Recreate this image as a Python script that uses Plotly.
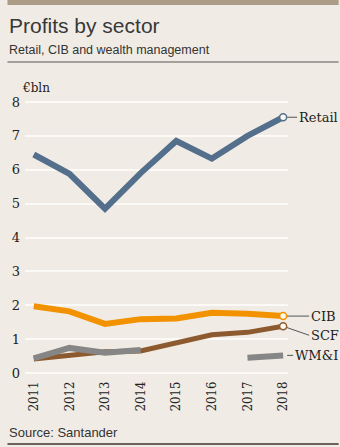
import plotly.graph_objects as go

years = [2011, 2012, 2013, 2014, 2015, 2016, 2017, 2018]
retail = [6.45, 5.88, 4.85, 5.9, 6.85, 6.33, 7.0, 7.55]
cib = [1.97, 1.82, 1.45, 1.59, 1.61, 1.78, 1.75, 1.68]
scf = [0.41, 0.53, 0.63, 0.65, 0.88, 1.13, 1.2, 1.38]
wmi = [0.43, 0.74, 0.6, 0.68, None, None, 0.45, 0.52]
y_ticks = [0, 1, 2, 3, 4, 5, 6, 7, 8]

C_RETAIL = "#536f8c"
C_CIB = "#f39200"
C_SCF = "#8c5a2e"
C_WMI = "#868686"
BG = "#f0ece5"
SERIF = "DejaVu Serif"
SERIF_C = "DejaVu Serif Condensed, DejaVu Serif"
SANS = "Liberation Sans"

# plot area in pixels
L, R, T, B = 18, 288, 100, 376
W, H = 340, 447
def px(x):
    return (x - L) / (R - L)
def py(y):
    return (B - y) / (B - T)

fig = go.Figure()
fig.add_trace(go.Scatter(x=years, y=scf, mode="lines", line=dict(color=C_SCF, width=5), hoverinfo="skip"))
fig.add_trace(go.Scatter(x=years, y=wmi, mode="lines", line=dict(color=C_WMI, width=6), connectgaps=False, hoverinfo="skip"))
fig.add_trace(go.Scatter(x=years, y=cib, mode="lines", line=dict(color=C_CIB, width=6), hoverinfo="skip"))
fig.add_trace(go.Scatter(x=years, y=retail, mode="lines", line=dict(color=C_RETAIL, width=6), hoverinfo="skip"))
for s, c in [(retail, C_RETAIL), (cib, C_CIB), (scf, C_SCF)]:
    fig.add_trace(go.Scatter(x=[years[-1]], y=[s[-1]], mode="markers",
                             marker=dict(size=7, color="#fbf8f0", line=dict(color=c, width=1.5)),
                             hoverinfo="skip"))

# end labels with leader lines
labels = [
    ("Retail", years[-1], retail[-1], 14, 0),
    ("CIB", years[-1], cib[-1], 26, 0),
    ("SCF", years[-1], scf[-1], 26, 9),
    ("WM&I", years[-1], wmi[-1], 10, 0),
]
for text, x, y, ax, ay in labels:
    fig.add_annotation(x=x, y=y, xref="x", yref="y", text=text, showarrow=True,
                       arrowhead=0, arrowwidth=1, arrowcolor="#555555",
                       ax=ax, ay=ay, xanchor="left", yanchor="middle",
                       standoff=4, startstandoff=0,
                       font=dict(family=SERIF, size=13, color="#222222"))

fig.add_annotation(x=px(13), y=py(88), xref="paper", yref="paper", text="€bln",
                   showarrow=False, xanchor="left", yanchor="middle",
                   font=dict(family=SERIF, size=12, color="#222222"))
fig.add_annotation(x=px(0), y=py(26), xref="paper", yref="paper", text="Profits by sector",
                   showarrow=False, xanchor="left", yanchor="middle",
                   font=dict(family=SANS, size=21, color="#383838"))
fig.add_annotation(x=px(0), y=py(50), xref="paper", yref="paper", text="Retail, CIB and wealth management",
                   showarrow=False, xanchor="left", yanchor="middle",
                   font=dict(family=SANS, size=12.5, color="#333333"))
fig.add_annotation(x=px(0), y=py(432), xref="paper", yref="paper", text="Source: Santander",
                   showarrow=False, xanchor="left", yanchor="middle",
                   font=dict(family=SANS, size=13, color="#333333"))

# decorations
fig.add_shape(type="rect", xref="paper", yref="paper", x0=px(0), x1=px(W), y0=py(0), y1=py(5),
              fillcolor="#ab9d87", line=dict(width=0), layer="above")
fig.add_shape(type="line", xref="paper", yref="paper", x0=px(0), x1=px(W), y0=py(62), y1=py(62),
              line=dict(color="#555555", width=1))
fig.add_shape(type="line", xref="paper", yref="paper", x0=px(0), x1=px(W), y0=py(444), y1=py(444),
              line=dict(color="#6a625a", width=2))

x0 = 2011 - (27 - L) / (256 / 7)
x1 = 2018 + (R - 283) / (256 / 7)
ppu = 33.9
fig.update_layout(
    width=W, height=H,
    margin=dict(l=L, r=W - R, t=T, b=H - B, pad=0),
    paper_bgcolor=BG, plot_bgcolor=BG,
    showlegend=False,
    xaxis=dict(range=[x0, x1], tickvals=years, ticktext=[str(y) for y in years],
               tickangle=-90, showgrid=False, zeroline=False, showline=False, ticks="",
               ticklabelstandoff=2,
               tickfont=dict(family=SERIF_C, size=13, color="#222222"), fixedrange=True),
    yaxis=dict(range=[-(B - 373) / ppu, 8 + (102 - T) / ppu], tickvals=y_ticks,
               showgrid=True, gridcolor="#fcfaf6", gridwidth=2, zeroline=False,
               showline=False, ticks="", ticklabelstandoff=4,
               tickfont=dict(family=SERIF, size=13, color="#222222"), fixedrange=True),
)
fig.write_html("out.html", config={"displayModeBar": False})
